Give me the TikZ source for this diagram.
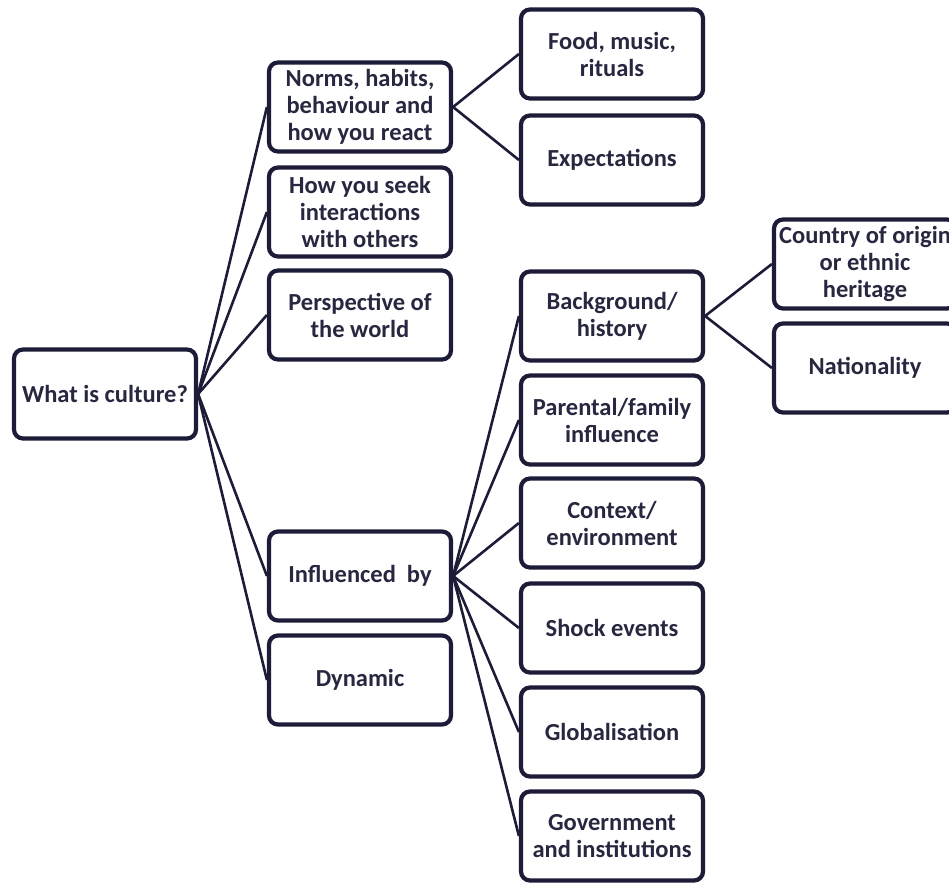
\documentclass[tikz,border=0pt]{standalone}
\usepackage{fontspec}
\setmainfont{Carlito}
\definecolor{boxline}{HTML}{1C1C38}
\definecolor{boxtext}{HTML}{272740}
\tikzset{
  box/.style={draw=boxline, line width=4.2pt, rounded corners=9pt, fill=white,
    minimum width=182pt, minimum height=89pt, align=center, inner sep=1pt,
    text=boxtext, font=\fontsize{24.5}{27}\selectfont\bfseries},
  link/.style={draw=boxline, line width=2.6pt}
}
\begin{document}
\begin{tikzpicture}[x=1pt, y=-1pt]
  \useasboundingbox (0,0) rectangle (949,884);
  \clip (0,0) rectangle (949,884);
  \fill[white] (0,0) rectangle (949,884);

  % root
  \node[box] (root) at (105,394) {What is culture?};

  % first level
  \node[box] (norms) at (360,107) {Norms, habits,\\behaviour and\\how you react};
  \node[box] (seek)  at (360,212) {How you seek\\interactions\\with others};
  \node[box] (persp) at (360,315) {Perspective of\\the world};
  \node[box] (infl)  at (360,576) {Influenced\ \ by};
  \node[box] (dyn)   at (360,680) {Dynamic};

  % second level
  \node[box] (food)   at (612,54)  {Food, music,\\rituals};
  \node[box] (expect) at (612,160) {Expectations};
  \node[box] (backg)  at (612,316) {Background/\\history};
  \node[box] (parent) at (612,420) {Parental/family\\influence};
  \node[box] (context) at (612,523) {Context/\\environment};
  \node[box] (shock)  at (612,628) {Shock events};
  \node[box] (glob)   at (612,732) {Globalisation};
  \node[box] (gov)    at (612,836) {Government\\and institutions};

  % third level
  \node[box] (country) at (865,264) {Country of origin\\or ethnic\\heritage};
  \node[box] (nation)  at (865,368) {Nationality};

  % connectors
  \foreach \t in {norms,seek,persp,infl,dyn}
    \draw[link] (root.east) -- (\t.west);
  \foreach \t in {food,expect}
    \draw[link] (norms.east) -- (\t.west);
  \foreach \t in {backg,parent,context,shock,glob,gov}
    \draw[link] (infl.east) -- (\t.west);
  \foreach \t in {country,nation}
    \draw[link] (backg.east) -- (\t.west);
\end{tikzpicture}
\end{document}
